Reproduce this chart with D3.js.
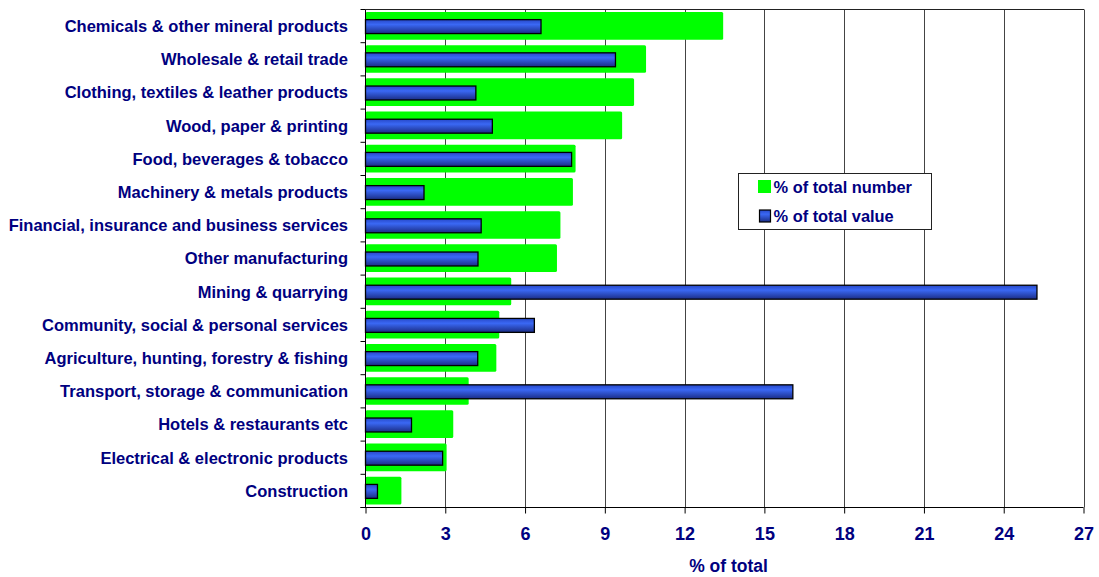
<!DOCTYPE html>
<html>
<head>
<meta charset="utf-8">
<script src="https://cdn.jsdelivr.net/npm/d3@7"></script>
<style>
  html, body { margin: 0; padding: 0; background: #fff; }
  svg { display: block; font-family: Arial, "Liberation Sans", sans-serif; }
</style>
</head>
<body>
<svg id="chart" width="1099" height="577"></svg>
<script>
// Sectors, ordered top to bottom
const sectors = [
  "Chemicals & other mineral products",
  "Wholesale & retail trade",
  "Clothing, textiles & leather products",
  "Wood, paper & printing",
  "Food, beverages & tobacco ",
  "Machinery & metals products",
  "Financial, insurance and business services",
  "Other manufacturing",
  "Mining & quarrying",
  "Community, social & personal services",
  "Agriculture, hunting, forestry & fishing",
  "Transport, storage & communication",
  "Hotels & restaurants etc",
  "Electrical & electronic products",
  "Construction"
];

// % of total number of enterprises
const pctNumber = [13.45, 10.55, 10.1, 9.65, 7.9, 7.8, 7.33, 7.2, 5.48, 5.03, 4.92, 3.88, 3.3, 3.05, 1.35];

// % of total value
const pctValue = [6.6, 9.4, 4.15, 4.77, 7.75, 2.2, 4.35, 4.23, 25.25, 6.35, 4.22, 16.07, 1.73, 2.9, 0.45];

const xTicks = [0, 3, 6, 9, 12, 15, 18, 21, 24, 27];
const seriesNames = ["% of total number", "% of total value"];
const axisTitle = "% of total";

const navy = "#000080";
const svg = d3.select("#chart");

const plotLeft = 365.5, plotRight = 1083.5, plotTop = 9.5, plotBottom = 507.5;

const x = d3.scaleLinear().domain([0, 27]).range([plotLeft, plotRight]);
const y = d3.scaleBand().domain(sectors).range([plotTop, plotBottom]).padding(0);
const bw = y.bandwidth();

// gradient for the value bars
const defs = svg.append("defs");
const grad = defs.append("linearGradient").attr("id", "blueGrad")
  .attr("x1", 0).attr("y1", 0).attr("x2", 0).attr("y2", 1);
grad.append("stop").attr("offset", "0%").attr("stop-color", "#2748c8");
grad.append("stop").attr("offset", "35%").attr("stop-color", "#3a68f4");
grad.append("stop").attr("offset", "100%").attr("stop-color", "#1b2d85");

// vertical gridlines
svg.append("g").selectAll("line").data(xTicks.slice(1)).join("line")
  .attr("x1", d => Math.round(x(d)) + 0.5).attr("x2", d => Math.round(x(d)) + 0.5)
  .attr("y1", plotTop).attr("y2", plotBottom)
  .attr("stroke", "#444").attr("stroke-width", 1);

// top border
svg.append("line").attr("x1", plotLeft).attr("x2", plotRight + 0.5).attr("y1", plotTop).attr("y2", plotTop)
  .attr("stroke", "#222").attr("stroke-width", 1);

// green bars: share of number
const gH = bw * 0.835;
svg.append("g").selectAll("rect").data(sectors).join("rect")
  .attr("x", x(0))
  .attr("y", (d, i) => y(d) + (bw - gH) / 2 - 0.3)
  .attr("width", (d, i) => x(pctNumber[i]) - x(0))
  .attr("height", gH)
  .attr("rx", 1.5)
  .attr("fill", "#00ff00");

// blue bars: share of value
const bH = bw * 0.42;
svg.append("g").selectAll("rect").data(sectors).join("rect")
  .attr("x", x(0))
  .attr("y", (d, i) => y(d) + (bw - bH) / 2 + 0.5)
  .attr("width", (d, i) => x(pctValue[i]) - x(0))
  .attr("height", bH)
  .attr("fill", "url(#blueGrad)")
  .attr("stroke", "#000")
  .attr("stroke-width", 1.3);

// y axis line and category boundary ticks
svg.append("line").attr("x1", plotLeft).attr("x2", plotLeft).attr("y1", plotTop).attr("y2", plotBottom)
  .attr("stroke", "#000").attr("stroke-width", 1);
const bounds = sectors.map(d => y(d)).concat([plotBottom]);
svg.append("g").selectAll("line").data(bounds).join("line")
  .attr("x1", plotLeft - 5).attr("x2", plotLeft)
  .attr("y1", d => d).attr("y2", d => d)
  .attr("stroke", "#000");

// category labels
svg.append("g").selectAll("text").data(sectors).join("text")
  .attr("x", 348)
  .attr("y", d => y(d) + bw / 2 + 1.5)
  .attr("text-anchor", "end")
  .attr("dominant-baseline", "middle")
  .attr("fill", navy)
  .attr("font-weight", "bold")
  .attr("font-size", "16.5px")
  .text(d => d);

// x axis
const xAxis = d3.axisBottom(x).tickValues(xTicks).tickSize(6).tickPadding(14).tickSizeOuter(0);
const gx = svg.append("g").attr("transform", `translate(0,${plotBottom})`).call(xAxis);
gx.select(".domain").remove();
gx.append("line").attr("x1", plotLeft - 5).attr("x2", plotRight).attr("stroke", "#000");
gx.selectAll(".tick line").attr("stroke", "#000");
gx.selectAll(".tick text")
  .attr("fill", navy).attr("font-weight", "bold").attr("font-size", "18px")
  .attr("font-family", "Arial, 'Liberation Sans', sans-serif");

svg.append("text")
  .attr("x", (plotLeft + plotRight) / 2 + 4).attr("y", 572)
  .attr("text-anchor", "middle")
  .attr("fill", navy).attr("font-weight", "bold").attr("font-size", "17.5px")
  .text(axisTitle);

// legend
const lg = svg.append("g").attr("transform", "translate(738.5,173.5)");
lg.append("rect").attr("width", 193).attr("height", 56)
  .attr("fill", "#fff").attr("stroke", "#222").attr("stroke-width", 1);
lg.append("rect").attr("x", 19.5).attr("y", 6.5).attr("width", 13).attr("height", 13)
  .attr("fill", "#00ff00");
lg.append("rect").attr("x", 21).attr("y", 36.5).attr("width", 11).attr("height", 12)
  .attr("fill", "url(#blueGrad)").attr("stroke", "#000").attr("stroke-width", 1.2);
lg.selectAll("text.lab").data(seriesNames).join("text")
  .attr("class", "lab")
  .attr("x", 35).attr("y", (d, i) => 19 + i * 29)
  .attr("fill", navy).attr("font-weight", "bold").attr("font-size", "16.4px")
  .text(d => d);
</script>
</body>
</html>
